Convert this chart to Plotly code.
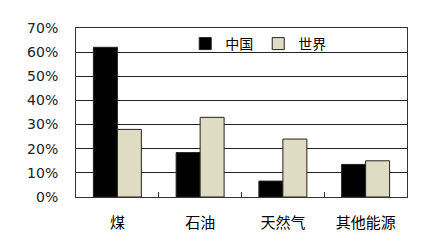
import plotly.graph_objects as go

categories = ["煤", "石油", "天然气", "其他能源"]
china = [62, 18.4, 6.6, 13.5]
world = [28, 33, 24, 15]
tickvals = [0, 10, 20, 30, 40, 50, 60, 70]
ticktext = ["0%", "10%", "20%", "30%", "40%", "50%", "60%", "70%"]

fig = go.Figure()
fig.add_trace(go.Bar(name="中国", x=categories, y=china,
                     marker=dict(color="#000000", line=dict(color="#222222", width=1))))
fig.add_trace(go.Bar(name="世界", x=categories, y=world,
                     marker=dict(color="#E0DCC3", line=dict(color="#222222", width=1))))

fig.update_layout(
    width=447, height=240,
    margin=dict(l=76, r=40, t=28, b=43),
    paper_bgcolor="white", plot_bgcolor="white",
    barmode="group", bargap=0.42, bargroupgap=0,
    font=dict(family="Noto Sans CJK SC, DejaVu Sans", color="#000000"),
    showlegend=True,
    legend=dict(orientation="h", x=0.33, y=1.0, xanchor="left", yanchor="top",
                font=dict(size=14, family="Noto Sans CJK SC"),
                bgcolor="rgba(0,0,0,0)", itemwidth=30, traceorder="normal"),
    xaxis=dict(type="category", showline=True, linecolor="#333333", linewidth=1,
               mirror=True, tickson="boundaries", ticks="inside", ticklen=5,
               tickcolor="#333333", showgrid=False, automargin=False,
               tickfont=dict(size=15, family="Noto Sans CJK SC"), ticklabelstandoff=12),
    yaxis=dict(range=[0, 70], tickvals=tickvals, ticktext=ticktext,
               showline=True, linecolor="#333333", linewidth=1, mirror=True,
               showgrid=True, gridcolor="#222222", gridwidth=1, ticks="",
               automargin=False,
               tickfont=dict(size=14, family="DejaVu Sans", color="#222222"),
               zeroline=False, ticklabelstandoff=14),
)
fig.write_html("out.html")
